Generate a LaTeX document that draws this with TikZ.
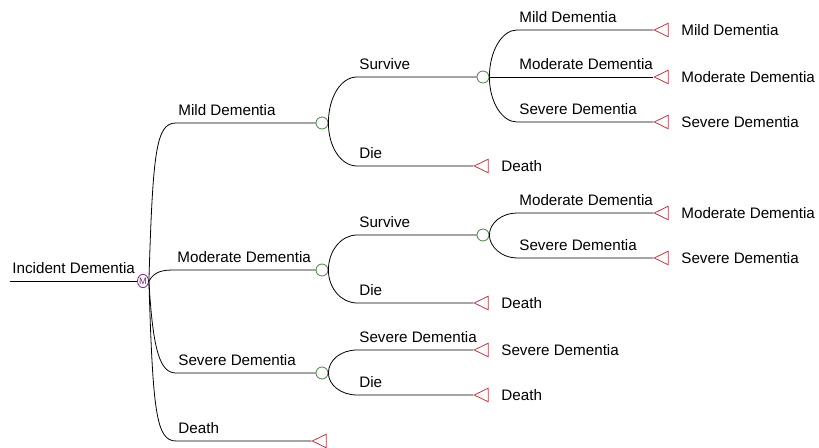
\documentclass[tikz,border=0pt]{standalone}
\usepackage{fontspec}
\setmainfont{Liberation Sans}
\usepackage{tikz}
\usetikzlibrary{shapes.geometric, calc}
\definecolor{chancegreen}{RGB}{70,130,70}
\definecolor{termred}{RGB}{195,55,65}
\definecolor{markovpurple}{RGB}{125,40,125}

\tikzset{
  chance/.style={circle, draw=chancegreen, fill=white, inner sep=0pt, minimum size=9pt},
  terminal/.style={isosceles triangle, isosceles triangle apex angle=60, isosceles triangle stretches,
    shape border rotate=180, draw=termred, inner sep=0pt, minimum width=10.2pt, minimum height=10.5pt},
  markov/.style={ellipse, draw=markovpurple, text=markovpurple, inner sep=0pt,
    minimum width=8pt, minimum height=10pt, font=\fontsize{7}{7}\selectfont},
  lbl/.style={anchor=base west, inner sep=0pt, xshift=1.5pt, yshift=5.6pt},
  endlbl/.style={anchor=base west, inner sep=0pt, yshift=-4.1pt}
}

\begin{document}
\begin{tikzpicture}[x=0.75pt, y=-0.75pt, line width=0.6pt, font=\fontsize{11.4}{14}\selectfont]
\useasboundingbox (0,0) rectangle (819,448);

% Root
\coordinate (root) at (10,281);
\node[markov] (M) at (143,281) {M};
\draw (root) -- (M.west);
\node[lbl] at (root) {Incident Dementia};

% First level
\node[chance] (c1) at (322,123) {};
\node[chance] (c2) at (322,270) {};
\node[chance] (c3) at (322,373) {};
\node[terminal] (t4) at (322,441) {};
\coordinate (b1) at (176,123);
\coordinate (b2) at (175,270);
\coordinate (b3) at (176,373);
\coordinate (b4) at (176,441);
\draw (M.east) .. controls +(4,-130) and +(-20,0) .. (b1) -- (c1);
\draw (M.east) .. controls +(6,-10) and +(-12,0) .. (b2) -- (c2);
\draw (M.east) .. controls +(4,70) and +(-16,0) .. (b3) -- (c3);
\draw (M.east) .. controls +(4,130) and +(-20,0) .. (b4) -- (t4.apex);
\node[lbl] at (b1) {Mild Dementia};
\node[lbl] at (b2) {Moderate Dementia};
\node[lbl] at (b3) {Severe Dementia};
\node[lbl] at (b4) {Death};

% Mild Dementia
\node[chance] (c11) at (483,77) {};
\node[terminal] (t12) at (484,166) {};
\coordinate (b11) at (357,77);
\coordinate (b12) at (357,166);
\draw (c1.east) .. controls +(0,-26) and +(-16,0) .. (b11) -- (c11);
\draw (c1.east) .. controls +(0,24) and +(-16,0) .. (b12) -- (t12.apex);
\node[lbl] at (b11) {Survive};
\node[lbl] at (b12) {Die};
\node[endlbl] at ($(t12)+(17,0)$) {Death};

\node[terminal] (t111) at (664,30) {};
\node[terminal] (t112) at (664,77) {};
\node[terminal] (t113) at (664,122) {};
\coordinate (b111) at (517,30);
\coordinate (b112) at (517,77);
\coordinate (b113) at (517,122);
\draw (c11.east) .. controls +(0,-26) and +(-15,0) .. (b111) -- (t111.apex);
\draw (c11.east) -- (t112.apex);
\draw (c11.east) .. controls +(0,25) and +(-15,0) .. (b113) -- (t113.apex);
\node[lbl] at (b111) {Mild Dementia};
\node[lbl] at (b112) {Moderate Dementia};
\node[lbl] at (b113) {Severe Dementia};
\node[endlbl] at ($(t111)+(17,0)$) {Mild Dementia};
\node[endlbl] at ($(t112)+(17,0)$) {Moderate Dementia};
\node[endlbl] at ($(t113)+(17,0)$) {Severe Dementia};

% Moderate Dementia
\node[chance] (c21) at (483,235) {};
\node[terminal] (t22) at (484,303) {};
\coordinate (b21) at (357,235);
\coordinate (b22) at (357,303);
\draw (c2.east) .. controls +(0,-19) and +(-16,0) .. (b21) -- (c21);
\draw (c2.east) .. controls +(0,18) and +(-16,0) .. (b22) -- (t22.apex);
\node[lbl] at (b21) {Survive};
\node[lbl] at (b22) {Die};
\node[endlbl] at ($(t22)+(17,0)$) {Death};

\node[terminal] (t211) at (664,213) {};
\node[terminal] (t212) at (664,258) {};
\coordinate (b211) at (517,213);
\coordinate (b212) at (517,258);
\draw (c21.east) .. controls +(0,-12) and +(-15,0) .. (b211) -- (t211.apex);
\draw (c21.east) .. controls +(0,12) and +(-15,0) .. (b212) -- (t212.apex);
\node[lbl] at (b211) {Moderate Dementia};
\node[lbl] at (b212) {Severe Dementia};
\node[endlbl] at ($(t211)+(17,0)$) {Moderate Dementia};
\node[endlbl] at ($(t212)+(17,0)$) {Severe Dementia};

% Severe Dementia
\node[terminal] (t31) at (484,350) {};
\node[terminal] (t32) at (484,395) {};
\coordinate (b31) at (357,350);
\coordinate (b32) at (357,395);
\draw (c3.east) .. controls +(0,-13) and +(-16,0) .. (b31) -- (t31.apex);
\draw (c3.east) .. controls +(0,12) and +(-16,0) .. (b32) -- (t32.apex);
\node[lbl] at (b31) {Severe Dementia};
\node[lbl] at (b32) {Die};
\node[endlbl] at ($(t31)+(17,0)$) {Severe Dementia};
\node[endlbl] at ($(t32)+(17,0)$) {Death};
\end{tikzpicture}
\end{document}
